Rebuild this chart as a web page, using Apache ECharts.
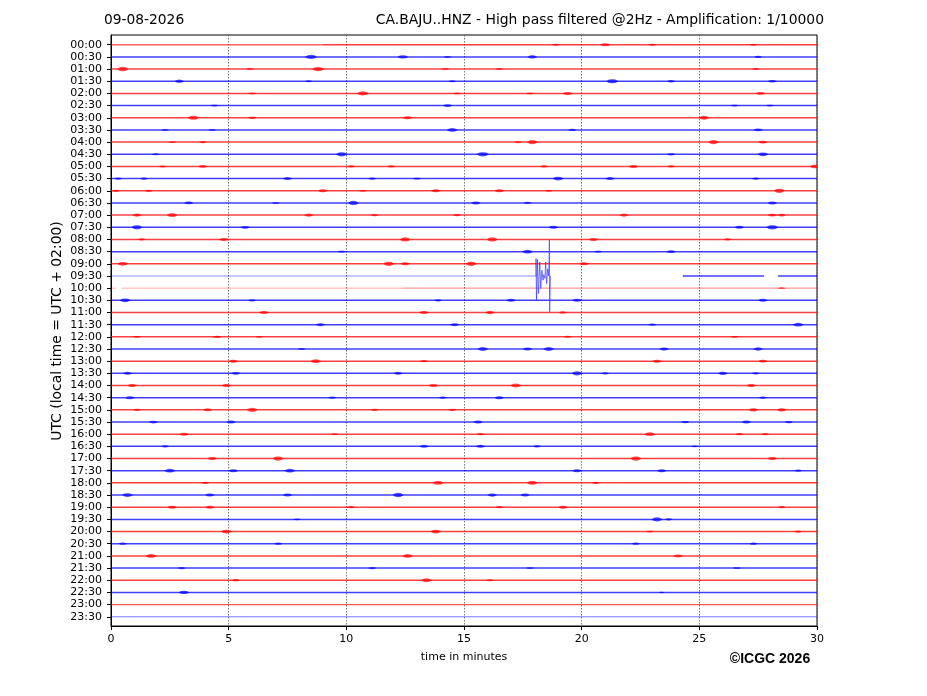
<!DOCTYPE html>
<html><head><meta charset="utf-8">
<script src="https://cdn.jsdelivr.net/npm/echarts@6/dist/echarts.min.js"></script>
<style>html,body{margin:0;padding:0;background:#fff}#c{width:927px;height:696px}</style>
</head><body><div id="c"></div>
<script>
// ---------- data ----------
const dateText = '09-08-2026';
const titleText = 'CA.BAJU..HNZ - High pass filtered @2Hz - Amplification: 1/10000';
const yAxisTitle = 'UTC (local time = UTC + 02:00)';
const xAxisTitle = 'time in minutes';
const creditText = '\u00A9ICGC 2026';

const timeLabels = ['00:00','00:30','01:00','01:30','02:00','02:30','03:00','03:30','04:00','04:30',
  '05:00','05:30','06:00','06:30','07:00','07:30','08:00','08:30','09:00','09:30',
  '10:00','10:30','11:00','11:30','12:00','12:30','13:00','13:30','14:00','14:30',
  '15:00','15:30','16:00','16:30','17:00','17:30','18:00','18:30','19:00','19:30',
  '20:00','20:30','21:00','21:30','22:00','22:30','23:00','23:30'];
const xTickValues = [0, 5, 10, 15, 20, 25, 30];

// background noise level of each row trace (1 = normal)
const rowLevels = [1,1,1,1,1,1,1,1,1,1, 1,1,1,1,1,1,1,1,1,1, 1,1,1,1,1,1,1,1,1,1,
  1,1,1,1,1,1,1,1,1,1, 1,1,1,1,1,1,0.85,0.6];
// rows with partial / quiet segments: [row, startMin, endMin, level]
const specialSegments = [
  [0, 0, 9.0, 0.75], [0, 9.0, 30, 1],
  [19, 0, 18.06, 0.45], [19, 24.3, 27.75, 1], [19, 28.35, 30, 1],
  [20, 0, 0.2, 0.3], [20, 0.45, 12.4, 0.28], [20, 12.4, 30, 0.38]
];
// noise bursts: [row, minute, durationMin, amplitude(rows)]
const bursts = [
[0,18.9,.3,.12],[0,21.0,.4,.2],[0,23.0,.3,.12],[0,27.3,.3,.12],
[1,8.5,.45,.28],[1,12.4,.4,.22],[1,14.3,.3,.12],[1,17.9,.35,.22],[1,27.5,.3,.15],
[2,0.5,.4,.3],[2,5.9,.3,.12],[2,8.8,.45,.28],[2,14.2,.3,.12],[2,16.5,.3,.12],[2,27.4,.3,.13],
[3,2.9,.35,.22],[3,8.4,.3,.12],[3,14.5,.3,.12],[3,21.3,.45,.28],[3,23.8,.3,.15],[3,28.1,.35,.18],
[4,6.0,.3,.12],[4,10.7,.45,.28],[4,14.7,.3,.12],[4,17.8,.3,.12],[4,19.4,.35,.2],[4,27.6,.35,.18],
[5,4.4,.3,.12],[5,14.3,.35,.18],[5,26.5,.3,.12],[5,28.0,.3,.12],
[6,3.5,.4,.28],[6,6.0,.3,.15],[6,12.6,.35,.2],[6,25.2,.4,.25],
[7,2.3,.3,.12],[7,4.3,.3,.12],[7,14.5,.4,.25],[7,19.6,.3,.15],[7,27.5,.35,.18],
[8,2.6,.3,.12],[8,3.9,.3,.15],[8,17.3,.3,.15],[8,17.9,.4,.28],[8,25.6,.4,.28],[8,27.7,.35,.18],
[9,1.9,.3,.13],[9,9.8,.4,.28],[9,15.8,.45,.28],[9,23.8,.3,.15],[9,27.7,.4,.25],
[10,2.2,.3,.13],[10,3.9,.35,.18],[10,10.2,.3,.15],[10,11.9,.3,.15],[10,18.4,.3,.15],[10,22.2,.35,.2],[10,23.8,.3,.15],[10,29.9,.35,.25],
[11,0.3,.3,.15],[11,1.4,.3,.15],[11,7.5,.35,.2],[11,11.1,.3,.15],[11,13.0,.3,.13],[11,19.0,.4,.25],[11,21.2,.35,.2],[11,27.4,.3,.15],
[12,0.2,.3,.15],[12,1.6,.3,.15],[12,9.0,.35,.2],[12,10.7,.3,.12],[12,13.8,.35,.2],[12,16.5,.35,.2],[12,18.6,.3,.12],[12,28.4,.4,.28],
[13,3.3,.35,.18],[13,7.0,.3,.12],[13,10.3,.4,.28],[13,15.5,.35,.2],[13,17.7,.3,.15],[13,28.1,.35,.2],
[14,1.1,.35,.2],[14,2.6,.4,.25],[14,8.4,.35,.2],[14,11.2,.3,.15],[14,14.7,.3,.15],[14,21.8,.35,.2],[14,28.1,.35,.18],[14,28.5,.3,.18],
[15,1.1,.4,.28],[15,5.7,.35,.18],[15,18.8,.35,.2],[15,26.7,.35,.2],[15,28.1,.45,.28],
[16,1.3,.3,.15],[16,4.8,.35,.2],[16,12.5,.4,.28],[16,16.2,.4,.28],[16,20.5,.35,.2],[16,26.2,.3,.15],
[17,9.8,.3,.13],[17,17.7,.4,.25],[17,20.7,.3,.13],[17,23.8,.35,.18],
[18,0.5,.4,.25],[18,11.8,.4,.28],[18,12.5,.35,.2],[18,15.3,.4,.28],[18,20.1,.35,.2],
[20,28.5,.3,.12],
[21,0.6,.4,.25],[21,6.0,.3,.15],[21,13.9,.3,.15],[21,17.0,.35,.2],[21,19.8,.35,.2],[21,27.7,.35,.2],
[22,6.5,.35,.2],[22,13.3,.35,.2],[22,16.1,.35,.22],[22,19.2,.3,.15],
[23,8.9,.35,.2],[23,14.6,.35,.2],[23,23.0,.3,.15],[23,29.2,.4,.25],
[24,1.1,.3,.12],[24,4.5,.35,.15],[24,6.3,.3,.12],[24,19.4,.3,.13],[24,26.5,.3,.12],
[25,8.1,.3,.12],[25,15.8,.4,.25],[25,17.7,.35,.2],[25,18.6,.4,.25],[25,23.5,.35,.2],[25,27.5,.35,.22],
[26,5.2,.35,.2],[26,8.7,.4,.25],[26,13.3,.3,.15],[26,23.2,.35,.2],[26,27.7,.35,.18],
[27,0.7,.35,.2],[27,5.3,.35,.18],[27,12.2,.35,.2],[27,19.8,.4,.28],[27,21.0,.3,.15],[27,26.0,.35,.22],[27,27.4,.3,.15],
[28,0.9,.35,.2],[28,4.9,.35,.2],[28,13.7,.35,.2],[28,17.2,.4,.25],[28,27.2,.35,.2],
[29,0.8,.35,.2],[29,9.4,.3,.15],[29,14.1,.3,.15],[29,16.5,.35,.2],[29,27.7,.3,.15],
[30,1.1,.3,.15],[30,4.1,.35,.2],[30,6.0,.4,.28],[30,11.2,.3,.15],[30,14.5,.3,.15],[30,27.3,.35,.22],[30,28.5,.35,.22],
[31,1.8,.35,.18],[31,5.1,.35,.2],[31,15.6,.35,.2],[31,24.4,.3,.15],[31,27.0,.35,.2],[31,28.8,.3,.15],
[32,3.1,.35,.2],[32,9.5,.3,.12],[32,15.7,.3,.15],[32,22.9,.4,.25],[32,26.7,.3,.15],[32,27.8,.3,.15],
[33,2.3,.3,.15],[33,13.3,.35,.2],[33,15.7,.35,.2],[33,18.1,.3,.15],[33,24.8,.3,.12],
[34,4.3,.35,.2],[34,7.1,.4,.28],[34,22.3,.4,.28],[34,28.1,.35,.2],
[35,2.5,.4,.25],[35,5.2,.35,.2],[35,7.6,.4,.25],[35,19.8,.35,.2],[35,23.4,.35,.2],[35,29.2,.3,.15],
[36,4.0,.3,.15],[36,13.9,.4,.25],[36,17.9,.4,.25],[36,20.6,.3,.15],
[37,0.7,.4,.25],[37,4.2,.35,.2],[37,7.5,.35,.2],[37,12.2,.4,.3],[37,16.2,.35,.22],[37,17.6,.35,.2],
[38,2.6,.35,.2],[38,4.2,.35,.2],[38,10.2,.3,.15],[38,16.5,.3,.15],[38,19.2,.35,.2],[38,28.5,.3,.15],
[39,7.9,.3,.12],[39,23.2,.4,.28],[39,23.7,.3,.15],
[40,4.9,.4,.25],[40,13.8,.4,.25],[40,22.9,.3,.12],[40,29.2,.3,.15],
[41,0.5,.3,.15],[41,7.1,.3,.15],[41,22.3,.3,.15],[41,27.3,.3,.15],
[42,1.7,.4,.25],[42,12.6,.4,.25],[42,24.1,.35,.2],
[43,3.0,.3,.15],[43,11.1,.3,.15],[43,17.8,.3,.12],[43,26.6,.3,.12],
[44,5.3,.3,.15],[44,13.4,.4,.25],[44,16.1,.3,.12],
[45,3.1,.4,.22],[45,23.4,.2,.1]
];
// earthquake waveform on the 09:30 row (minute, offset in row units, + = up)
const quakeRow = 19;
const quakeMinutes = [18.06,18.06,18.08,18.12,18.16,18.22,18.26,18.31,18.36,18.39,18.41,18.44,18.47,18.51,18.56,18.60,18.63,18.64,18.67];
const quakeOffsets = [0,   1.43,-2.0, 1.35,-1.45,1.15,-1.03,0.47,-0.35,0.1,  0.1, -0.2, 1.15,-0.63,0.6,  0,    2.98,-2.95,0];

// ---------- build ----------
const specialRows = new Set(specialSegments.map(s => s[0]));
const segData = [];
specialSegments.forEach(s => segData.push(s));
rowLevels.forEach((lvl, r) => { if (!specialRows.has(r)) segData.push([r, 0, 30, lvl]); });
const quakeData = quakeMinutes.map((m, i) => [m, quakeRow - quakeOffsets[i]]);
const rowValues = timeLabels.map((_, i) => i);

function rowColor(row, alpha) {
  return row % 2 ? 'rgba(0,0,255,' + alpha + ')' : 'rgba(255,0,0,' + alpha + ')';
}
const traceSeries = segData.map(([row, s, e, lvl], i) => ({
  type: 'line', id: 'trace' + i, data: [[s, row], [e, row]], symbol: 'none', silent: true, clip: false, z: 2,
  lineStyle: { color: rowColor(row, (0.2 + 0.55 * lvl).toFixed(3)), width: 0.8 + 0.7 * lvl }
}));

function renderBurst(params, api) {
  const row = api.value(0), m = api.value(1), d = api.value(2) * 1.2, a = api.value(3) * 0.62;
  const pts = [[m - d / 2, row], [m - d / 4, row - a * 0.8], [m, row - a], [m + d / 4, row - a * 0.8],
    [m + d / 2, row], [m + d / 4, row + a * 0.8], [m, row + a], [m - d / 4, row + a * 0.8]].map(p => api.coord(p));
  return { type: 'polygon', shape: { points: pts },
    style: { fill: rowColor(row, 0.7) } };
}

const chart = echarts.init(document.getElementById('c'), null, { renderer: 'canvas' });
const FONT = 'DejaVu Sans';
chart.setOption({
  animation: false,
  backgroundColor: '#fff',
  grid: { left: 111, right: 110, top: 35, bottom: 70, show: true, borderColor: '#000', borderWidth: 1, backgroundColor: 'transparent' },
  xAxis: {
    type: 'value', min: xTickValues[0], max: xTickValues[xTickValues.length - 1], interval: 5,
    axisLine: { show: true, onZero: false, lineStyle: { color: '#000', width: 1 } },
    axisTick: { show: true, length: 4, lineStyle: { color: '#000' } },
    axisLabel: { color: '#000', fontFamily: FONT, fontSize: 11, margin: 8 },
    splitLine: { show: true, lineStyle: { color: '#555', width: 0.8, type: [1.5, 1.5] } }
  },
  yAxis: {
    type: 'value', min: -0.8, max: 47.76, inverse: true,
    axisLine: { show: true, onZero: false, lineStyle: { color: '#000', width: 1 } },
    axisTick: { show: true, length: 4, customValues: rowValues, lineStyle: { color: '#000' } },
    axisLabel: { color: '#000', fontFamily: FONT, fontSize: 11, margin: 9, customValues: rowValues,
      formatter: v => timeLabels[Math.round(v)] || '' },
    splitLine: { show: false }
  },
  graphic: [
    { type: 'text', left: 104, top: 13, style: { text: dateText, font: '13.8px "DejaVu Sans"', fill: '#000' } },
    { type: 'text', right: 103, top: 13, style: { text: titleText, font: '13.9px "DejaVu Sans"', fill: '#000' } },
    { type: 'text', x: 57, y: 331, rotation: Math.PI / 2, style: { text: yAxisTitle, font: '13.9px "DejaVu Sans"', fill: '#000', align: 'center', verticalAlign: 'middle' } },
    { type: 'text', x: 464, y: 657, style: { text: xAxisTitle, font: '11px "DejaVu Sans"', fill: '#000', align: 'center', verticalAlign: 'middle' } },
    { type: 'text', x: 770, y: 659, style: { text: creditText, font: 'bold 14px "Liberation Sans"', fill: '#000', align: 'center', verticalAlign: 'middle' } }
  ],
  series: traceSeries.concat([
    { type: 'custom', name: 'bursts', renderItem: renderBurst, data: bursts, encode: { x: 1, y: 0 }, clip: true, z: 3, silent: true },
    { type: 'line', name: 'quake', data: quakeData, symbol: 'none', clip: true, z: 4, silent: true,
      lineStyle: { color: '#3a3aff', width: 1, opacity: 0.7 } }
  ])
});
</script>
</body></html>
